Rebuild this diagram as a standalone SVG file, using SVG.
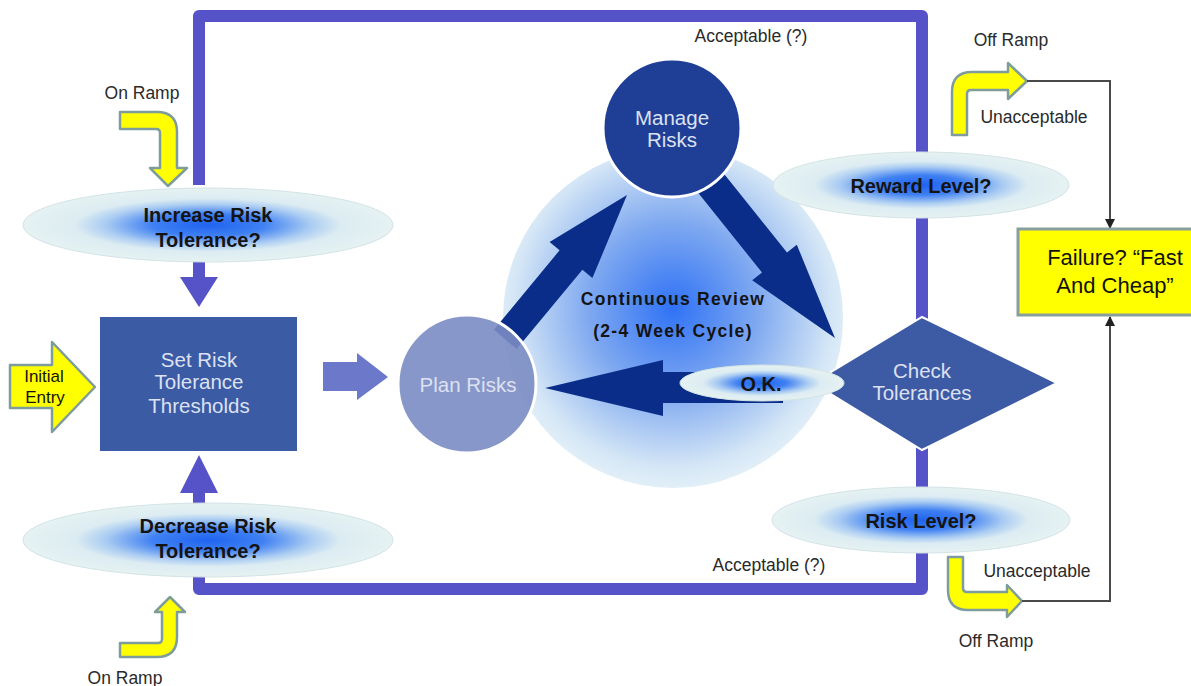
<svg xmlns="http://www.w3.org/2000/svg" width="1191" height="686" viewBox="0 0 1191 686">
<style>
.lbl{font-family:"Liberation Sans",Arial,sans-serif;font-size:20px;font-weight:bold;fill:#141414;text-anchor:middle}
.wt{font-family:"Liberation Sans",Arial,sans-serif;font-size:20.5px;fill:#dde1f1;text-anchor:middle}
.sm{font-family:"Liberation Sans",Arial,sans-serif;font-size:17.5px;fill:#2a2a2a;text-anchor:middle}
.ell{fill:url(#eg);stroke:#d3e3e6;stroke-width:1}
.yel{fill:#ffff00;stroke:#7f9c9c;stroke-width:2.5;stroke-linejoin:round}
.navy{fill:#0a2d8a}
.purp{fill:#5553c7}
.thin{fill:none;stroke:#4a4a4a;stroke-width:2;marker-end:url(#ah)}
</style>
<defs>
<radialGradient id="eg" cx="50%" cy="50%" r="50%">
<stop offset="0" stop-color="#1f63f0"/>
<stop offset="0.3" stop-color="#3f80f2"/>
<stop offset="0.55" stop-color="#a9cbf2"/>
<stop offset="0.72" stop-color="#dcecf2"/>
<stop offset="1" stop-color="#e6f2f2"/>
</radialGradient>
<radialGradient id="cg" cx="50%" cy="47%" r="55%">
<stop offset="0" stop-color="#2f72f6"/>
<stop offset="0.45" stop-color="#7ea8f0"/>
<stop offset="0.85" stop-color="#d4e6f6"/>
<stop offset="1" stop-color="#e6f2f8"/>
</radialGradient>
<marker id="ah" viewBox="0 0 10 10" refX="9" refY="5" markerWidth="5" markerHeight="5" orient="auto">
<path d="M0,0 L10,5 L0,10 Z" fill="#222"/>
</marker>
</defs>
<rect width="1191" height="686" fill="#ffffff"/>

<g id="cycle">
<circle cx="673" cy="318" r="170" fill="url(#cg)"/>
<text class="lbl" x="673" y="305" style="font-size:17.5px;letter-spacing:1.3px">Continuous Review</text>
<text class="lbl" x="673" y="337" style="font-size:17.5px;letter-spacing:1.3px">(2-4 Week Cycle)</text>
</g>

<g id="connectors">
<path d="M199,185 V16 H922 V165 M922,205 V320 M922,448 V490 M922,550 V589 H199 V575" fill="none" stroke="#5553c7" stroke-width="12" stroke-linejoin="round"/>
<path class="purp" d="M193,255 H205 V277 H218 L199,307 L180,277 H193 Z"/>
<path class="purp" d="M193,510 V493 H180 L199,455 L218,493 H205 V510 Z"/>
<path d="M323,362 H357 V353 L388,377 L357,400 V391 H323 Z" fill="#6c78c9"/>
<polygon class="navy" points="493.9,329.7 559.6,250.3 549.6,241.9 627,195 592.4,278.1 582.4,269.7 516.7,349.1"/>
<polygon class="navy" points="711.9,158.8 787,252.5 796.8,244.7 835,338 752.2,280.3 762,272.5 686.9,178.8"/>
<polygon class="navy" points="783,372 663,372 663,360 545,388 663,416 663,403 783,403"/>
<path class="yel" d="M10,365 L52,365 L52,342 L95,387 L52,432 L52,408 L10,408 Z"/>
<path class="yel" d="M120,112 L157,112 Q177,112 177,132 L177,168 L187,168 L168,186 L150,168 L160,168 L160,133 Q160,129 156,129 L120,129 Z"/>
<path class="yel" d="M120,657 L157,657 Q177,657 177,637 L177,612 L185,612 L170,597 L155,612 L162,612 L162,639 Q162,643 158,643 L120,643 Z"/>
<path class="yel" d="M952,135 L952,92 Q952,72 972,72 L1008,72 L1008,63 L1027,81 L1008,99 L1008,90 L971,90 Q967,90 967,94 L967,135 Z"/>
<path class="yel" d="M948,557 L963,557 L963,588 Q963,592 967,592 L1007,592 L1007,585 L1022,601 L1007,617 L1007,610 L968,610 Q948,610 948,590 Z"/>
<path class="thin" d="M1027,81 H1110 V228"/>
<path class="thin" d="M1022,601 H1110 V317"/>
<text class="sm" x="751" y="42">Acceptable (?)</text>
<text class="sm" x="769" y="571">Acceptable (?)</text>
<text class="sm" x="142" y="99">On Ramp</text>
<text class="sm" x="125" y="684">On Ramp</text>
<text class="sm" x="1011" y="46">Off Ramp</text>
<text class="sm" x="996" y="647">Off Ramp</text>
<text class="sm" x="1034" y="123">Unacceptable</text>
<text class="sm" x="1037" y="577">Unacceptable</text>
<text class="sm" x="44" y="382" style="fill:#111;font-size:17px">Initial</text>
<text class="sm" x="45" y="403" style="fill:#111;font-size:17px">Entry</text>
</g>

<g id="increase">
<ellipse class="ell" cx="208" cy="225" rx="185" ry="37"/>
<text class="lbl" x="208" y="222">Increase Risk</text>
<text class="lbl" x="208" y="247">Tolerance?</text>
</g>
<g id="decrease">
<ellipse class="ell" cx="208" cy="540" rx="185" ry="37"/>
<text class="lbl" x="208" y="533">Decrease Risk</text>
<text class="lbl" x="208" y="558">Tolerance?</text>
</g>
<g id="setrisk">
<rect x="99" y="316" width="199" height="136" fill="#3b5ba5" stroke="#ffffff" stroke-width="2"/>
<text class="wt" x="199" y="367">Set Risk</text>
<text class="wt" x="199" y="389">Tolerance</text>
<text class="wt" x="199" y="413">Thresholds</text>
</g>
<g id="plan">
<circle cx="467" cy="384" r="69" fill="#7b8cc3" fill-opacity="0.9" stroke="#ffffff" stroke-width="3"/>
<text class="wt" x="468" y="392">Plan Risks</text>
</g>
<g id="manage">
<circle cx="672" cy="128" r="69" fill="#1f3f97" stroke="#ffffff" stroke-width="3"/>
<text class="wt" x="672" y="125">Manage</text>
<text class="wt" x="672" y="147">Risks</text>
</g>
<g id="check">
<polygon points="813,383 922,317 1057,383 922,450" fill="#3d5aa5" stroke="#ffffff" stroke-width="2"/>
<text class="wt" x="922" y="378">Check</text>
<text class="wt" x="922" y="400">Tolerances</text>
</g>
<g id="ok">
<ellipse class="ell" cx="762" cy="383" rx="82" ry="18"/>
<text class="lbl" x="761" y="391">O.K.</text>
</g>
<g id="reward">
<ellipse class="ell" cx="921" cy="185" rx="148" ry="33"/>
<text class="lbl" x="921" y="193">Reward Level?</text>
</g>
<g id="risk">
<ellipse class="ell" cx="921" cy="520" rx="149" ry="33"/>
<text class="lbl" x="921" y="528">Risk Level?</text>
</g>
<g id="failure">
<rect x="1018" y="229" width="200" height="86" fill="#ffff00" stroke="#8a9e9e" stroke-width="3"/>
<text class="lbl" x="1115" y="265" style="font-size:22px;font-weight:normal;fill:#111">Failure? “Fast</text>
<text class="lbl" x="1115" y="293" style="font-size:22px;font-weight:normal;fill:#111">And Cheap”</text>
</g>
</svg>
